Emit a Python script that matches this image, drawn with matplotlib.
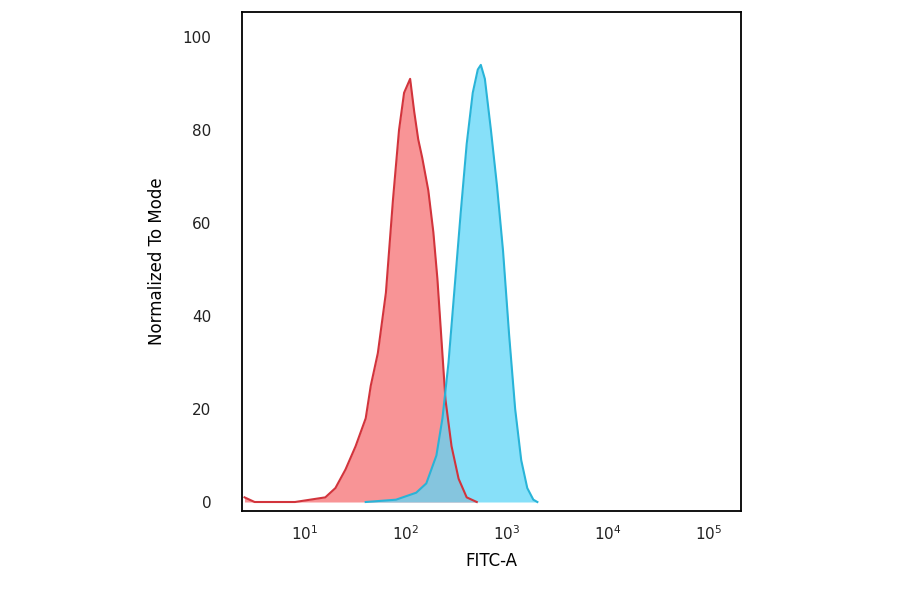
import numpy as np
import matplotlib.pyplot as plt

# log10 of FITC-A, percent of mode
red_logx = [0.4, 0.45, 0.5, 0.9, 1.05, 1.2, 1.3, 1.4, 1.5, 1.6, 1.65, 1.72, 1.8, 1.87, 1.93, 1.98, 2.04, 2.08, 2.12, 2.16, 2.22, 2.27, 2.31, 2.35, 2.39, 2.45, 2.52, 2.6, 2.7]
red_y = [1, 0.5, 0, 0, 0.5, 1, 3, 7, 12, 18, 25, 32, 45, 65, 80, 88, 91, 84, 78, 74, 67, 58, 48, 35, 22, 12, 5, 1, 0]
blue_logx = [1.6, 1.9, 2.1, 2.2, 2.3, 2.36, 2.42, 2.48, 2.54, 2.6, 2.66, 2.71, 2.74, 2.78, 2.84, 2.9, 2.96, 3.02, 3.08, 3.14, 3.2, 3.26, 3.3]
blue_y = [0, 0.5, 2, 4, 10, 18, 30, 46, 62, 77, 88, 93, 94, 91, 80, 68, 54, 36, 20, 9, 3, 0.5, 0]

fig = plt.figure(figsize=(9, 5.94), dpi=100)
ax = fig.add_axes([0.269, 0.14, 0.5544, 0.84])

rx = 10 ** np.array(red_logx)
bx = 10 ** np.array(blue_logx)
ax.fill_between(rx, red_y, color='#f7797c', alpha=0.8, lw=0)
ax.plot(rx, red_y, color='#d2343c', lw=1.5)
ax.fill_between(bx, blue_y, color='#5fd6f7', alpha=0.75, lw=0)
ax.plot(bx, blue_y, color='#29b4d8', lw=1.5)

ax.set_xscale('log')
ax.set_xlim(10 ** 0.376, 10 ** 5.317)
ax.set_ylim(-1.9, 105.4)
ax.set_xticks([10, 100, 1000, 1e4, 1e5])
ax.set_yticks([0, 20, 40, 60, 80, 100])
ax.minorticks_off()
ax.tick_params(length=0, labelsize=11, colors='#222222', pad=10)
ax.tick_params(axis='y', pad=22)
ax.set_xlabel('FITC-A', fontsize=12, labelpad=6)
ax.set_ylabel('Normalized To Mode', fontsize=12, labelpad=12)
for s in ax.spines.values():
    s.set_linewidth(1.3)

fig.savefig('out.png', dpi=100)
